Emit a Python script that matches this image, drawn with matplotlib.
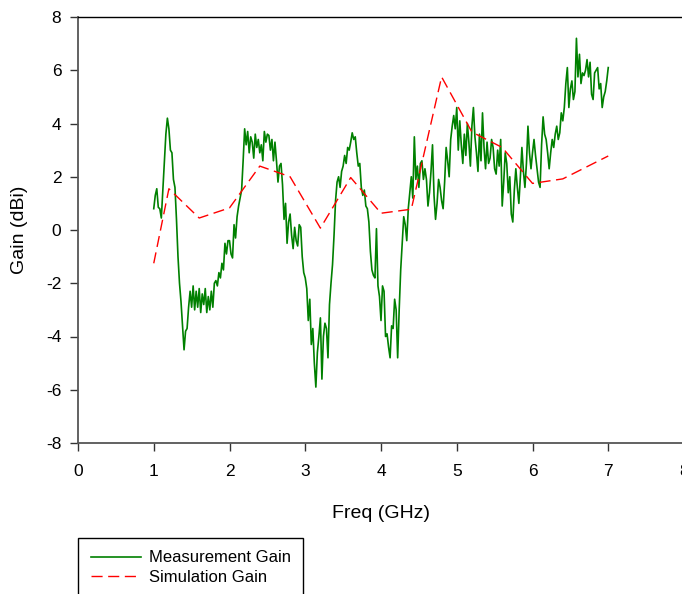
import numpy as np
import matplotlib
matplotlib.use('Agg')
from matplotlib import pyplot as plt

plt.rcParams['font.family'] = ['Liberation Sans', 'DejaVu Sans']
plt.rcParams['axes.unicode_minus'] = False

meas_gain = [
    0.8, 1.3, 1.55, 0.85, 0.8, 0.45, 1.5, 2.6, 3.6, 4.2,
    3.8, 3.0, 2.9, 1.9, 1.6, 0.4, -1.0, -2.0, -2.7, -3.6,
    -4.5, -3.8, -3.7, -2.9, -2.3, -2.9, -2.1, -3.0, -2.3, -2.9,
    -2.2, -3.1, -2.4, -2.8, -2.2, -3.1, -2.5, -3.0, -2.3, -2.9,
    -2.0, -1.9, -2.1, -1.6, -1.8, -1.25, -1.5, -0.5, -0.9, -0.4,
    -0.4, -0.9, -1.05, 0.2, -0.3, 0.5, 0.9, 1.2, 1.5, 2.6,
    3.8, 3.2, 3.7, 2.9, 3.5, 3.3, 2.7, 3.6, 3.1, 3.4,
    2.9, 3.2, 2.6, 3.7, 3.3, 3.6, 3.55, 3.0, 3.4, 2.6,
    3.3, 2.6, 1.8, 2.4, 2.5, 1.7, 0.4, 1.0, -0.5, 0.3,
    0.6, -0.2, -0.7, 0.1, -0.4, -0.6, 0.2, 0.1, -1.0, -1.6,
    -1.8, -2.2, -3.4, -2.6, -4.3, -3.7, -5.0, -5.9, -4.6, -4.0,
    -3.3, -5.6, -4.0, -3.5, -3.7, -4.8, -2.8, -2.0, -1.3, -0.2,
    1.1, 1.8, 2.0, 1.6, 2.2, 2.4, 2.8, 2.5, 3.1, 3.0,
    3.3, 3.65, 3.4, 3.5, 2.9, 2.4, 2.5, 1.6, 1.3, 1.5,
    0.9, 0.8, 0.3, -0.8, -1.5, -1.7, -1.8, 0.05, -2.1, -2.5,
    -3.4, -2.1, -2.3, -4.0, -3.9, -4.4, -4.8, -3.6, -3.7, -2.6,
    -3.0, -4.8, -3.0, -1.5, -0.5, 0.5, 0.2, -0.4, 0.8, 1.4,
    2.0, 1.2, 3.5, 1.9, 2.4, 1.6, 2.5, 2.6, 1.9, 2.3,
    1.9, 0.9, 1.4, 2.2, 3.2, 1.3, 0.4, 1.0, 1.9, 1.6,
    1.1, 0.8, 1.8, 3.1, 2.6, 2.0, 3.4, 3.9, 4.3, 3.8,
    4.6, 3.0, 4.1, 3.2, 2.5, 3.6, 2.8, 4.0, 3.3, 2.4,
    3.9, 4.6, 3.5, 2.9, 2.2, 3.6, 2.6, 4.4, 3.1, 2.3,
    3.3, 2.5, 2.7, 3.4, 3.1, 2.3, 2.1, 3.0, 2.4, 3.4,
    0.9, 1.8, 2.9, 2.5, 1.4, 2.0, 0.6, 0.3, 1.5, 2.3,
    1.6, 1.0, 2.0, 3.1, 2.2, 1.6, 2.5, 3.9, 2.9, 2.3,
    2.9, 3.4, 2.8, 2.3, 1.8, 1.6, 3.2, 4.25, 3.6, 3.4,
    2.9, 2.3, 2.9, 3.4, 3.1, 3.6, 3.9, 3.4, 3.65, 4.4,
    4.1, 4.6, 5.5, 6.1, 4.6, 5.3, 5.6, 4.9, 5.2, 7.2,
    5.75, 6.6, 5.5, 5.9, 5.8, 6.0, 6.4, 5.75, 6.3, 5.1,
    4.9, 5.9, 6.0, 6.1, 5.3, 5.5, 4.6, 5.0, 5.2, 5.6, 6.1,
]
meas_freq = np.linspace(1.0, 7.0, len(meas_gain))

# simulated gain
sim_freq = [1.0, 1.2, 1.6, 2.0, 2.4, 2.8, 3.2, 3.6, 4.0, 4.4, 4.8, 5.2, 5.6, 6.0, 6.4, 7.0]
sim_gain = [-1.25, 1.55, 0.45, 0.83, 2.4, 2.0, 0.07, 1.97, 0.63, 0.78, 5.75, 3.68, 3.1, 1.75, 1.92, 2.78]

fig = plt.figure(figsize=(6.82, 5.94), dpi=100)
ax = fig.add_axes([78/682, 1 - 443/594, 606/682, 426/594])

l1, = ax.plot(meas_freq, meas_gain, color='#008000', lw=1.2)
l2, = ax.plot(sim_freq, sim_gain, color='red', lw=1.0, linestyle=(0, (8, 4)))

ax.set_xlim(0, 8)
ax.set_ylim(-8, 8)
ax.set_xticks(range(0, 9))
ax.set_yticks(range(-8, 9, 2))
ax.tick_params(direction='out', length=6, width=1, labelsize=12.5, color='#333333')
ax.tick_params(axis='x', pad=9)
ax.tick_params(axis='y', pad=6)

for side in ('left', 'bottom'):
    ax.spines[side].set_color('#555555')
    ax.spines[side].set_linewidth(1.3)
ax.spines['top'].set_color('black')
ax.spines['top'].set_linewidth(1.0)
ax.spines['right'].set_visible(False)

ax.set_xlabel('Freq (GHz)', fontsize=14, labelpad=19)
ax.set_ylabel('Gain (dBi)', fontsize=14, labelpad=13)

leg = fig.legend([l1, l2], ['Measurement Gain', 'Simulation Gain'],
                 loc='upper left', bbox_to_anchor=(78/682, 1 - 538/594),
                 borderaxespad=0, fontsize=12, handlelength=3.0, handletextpad=0.5,
                 labelspacing=0.28, borderpad=0.75, fancybox=False, framealpha=1)
leg.get_frame().set_edgecolor('black')
leg.get_frame().set_linewidth(1.0)

fig.savefig('out.png', dpi=100)
